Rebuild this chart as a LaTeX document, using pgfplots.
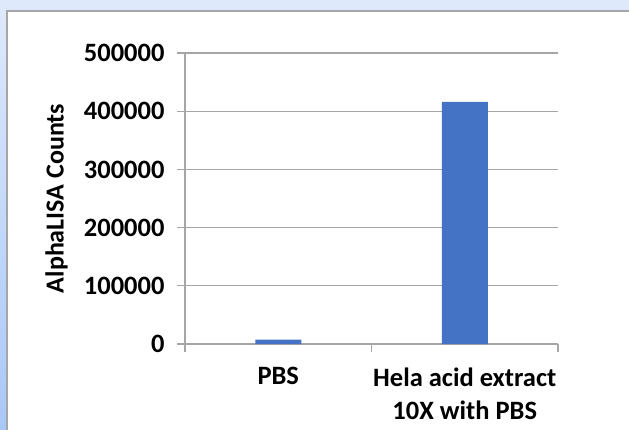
\documentclass[border=0pt]{standalone}
\usepackage{fontspec}
\setmainfont{Carlito}
\usepackage{pgfplots}
\pgfplotsset{compat=1.18}
\definecolor{barblue}{HTML}{4472C4}
\definecolor{gridgray}{HTML}{A6A6A6}
\definecolor{bgtop}{HTML}{DFE9FB}
\definecolor{bgbot}{HTML}{A8C8F8}
\begin{document}
\begin{tikzpicture}
  % background and chart panel
  \shade[top color=bgtop, bottom color=bgbot] (0pt,0pt) rectangle (629pt,429pt);
  \begin{scope}
    \clip (0pt,0pt) rectangle (629pt,429pt);
    \fill[white, draw=gridgray, line width=2pt] (7pt,-20pt) rectangle (700pt,418pt);
  \end{scope}
  \begin{axis}[
      at={(185pt,85pt)}, anchor=south west,
      scale only axis,
      width=373pt, height=291pt,
      xmin=-0.5, xmax=1.5,
      ymin=0, ymax=500000,
      axis x line*=bottom, axis y line*=left,
      axis line style={gridgray, line width=1.3pt},
      xtick={-0.5,0.5,1.5},
      x tick label as interval,
      xticklabels={PBS, {Hela acid extract\\10X with PBS}},
      ytick={0,100000,...,500000},
      tick align=outside,
      major tick length=8pt,
      tick style={gridgray, line width=1.3pt},
      ymajorgrids,
      grid style={gridgray, line width=1.3pt},
      /pgf/number format/assume math mode=true,
      /pgf/number format/fixed,
      /pgf/number format/set thousands separator={},
      scaled y ticks=false,
      ticklabel style={font=\fontsize{26.5}{33}\selectfont\bfseries},
      y tick label style={xshift=-9pt},
      x tick label style={align=center, yshift=-12pt},
      ylabel={AlphaLISA Counts},
      ylabel style={font=\fontsize{26}{30}\selectfont\bfseries, at={(axis description cs:-0.305,0.5)}},
      clip=false,
    ]
    \addplot[ybar, bar width=46pt, fill=barblue, draw=none] coordinates {(0,7500) (1,416000)};
  \end{axis}
  \pgfresetboundingbox
  \useasboundingbox (0pt,0pt) rectangle (629pt,429pt);
\end{tikzpicture}
\end{document}
